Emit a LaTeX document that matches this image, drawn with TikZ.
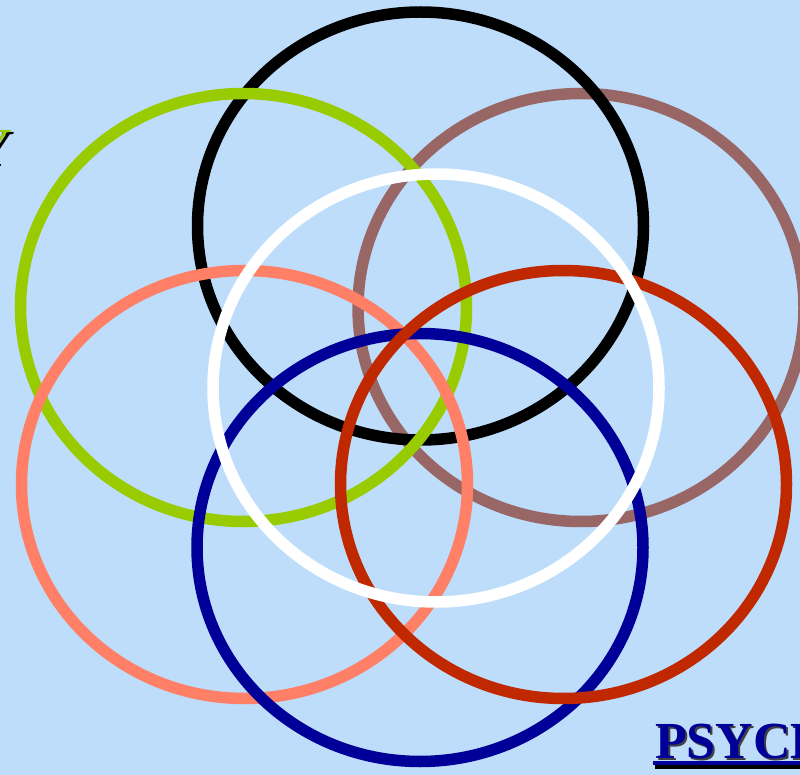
\documentclass[tikz,border=0pt]{standalone}
\usepackage{fontspec}
\setmainfont{Liberation Serif}
\definecolor{bgblue}{RGB}{189,221,251}
\definecolor{ringgreen}{RGB}{153,204,0}
\definecolor{ringbrown}{RGB}{153,102,102}
\definecolor{ringsalmon}{RGB}{255,128,102}
\definecolor{ringred}{RGB}{192,40,0}
\definecolor{ringblue}{RGB}{0,0,153}
\begin{document}
\begin{tikzpicture}[x=1pt,y=-1pt,
  ring/.style={line width=11.5pt},
  bigtext/.style={font=\bfseries\fontsize{52}{52}\selectfont, inner sep=0pt, anchor=base west}]
\useasboundingbox (0,0) rectangle (800,775);
\clip (0,0) rectangle (800,775);
\fill[bgblue] (0,0) rectangle (800,775);
% rings
\draw[ring, ringbrown] (581,307.5) ellipse [x radius=223pt, y radius=214pt];
\draw[ring, black] (420.5,226) ellipse [x radius=223pt, y radius=214pt];
\draw[ring, ringgreen] (243.5,307.5) ellipse [x radius=223pt, y radius=214pt];
\draw[ring, ringsalmon] (244.5,484.5) ellipse [x radius=223pt, y radius=214pt];
\draw[ring, ringblue] (420,547.5) ellipse [x radius=223pt, y radius=214pt];
\draw[ring, ringred] (563.5,484.5) ellipse [x radius=223pt, y radius=214pt];
\draw[ring, white] (436,388) ellipse [x radius=223pt, y radius=214pt];
% clipped Y at left
\node[bigtext, text=black, font=\bfseries\itshape\fontsize{52}{52}\selectfont] (yshadow) at (-22,167) {Y};
\node[bigtext, text=ringgreen, font=\bfseries\itshape\fontsize{52}{52}\selectfont] (ytext) at (-25,165) {Y};
% PSYCH
\fill[black] (655,765) rectangle (800,768.5);
\fill[ringblue] (653,761) rectangle (800,765);
\node[bigtext, text=black!75] (psychshadow) at (657,760) {PSYCH};
\node[bigtext, text=ringblue] (psych) at (655,758) {PSYCH};
\end{tikzpicture}
\end{document}
